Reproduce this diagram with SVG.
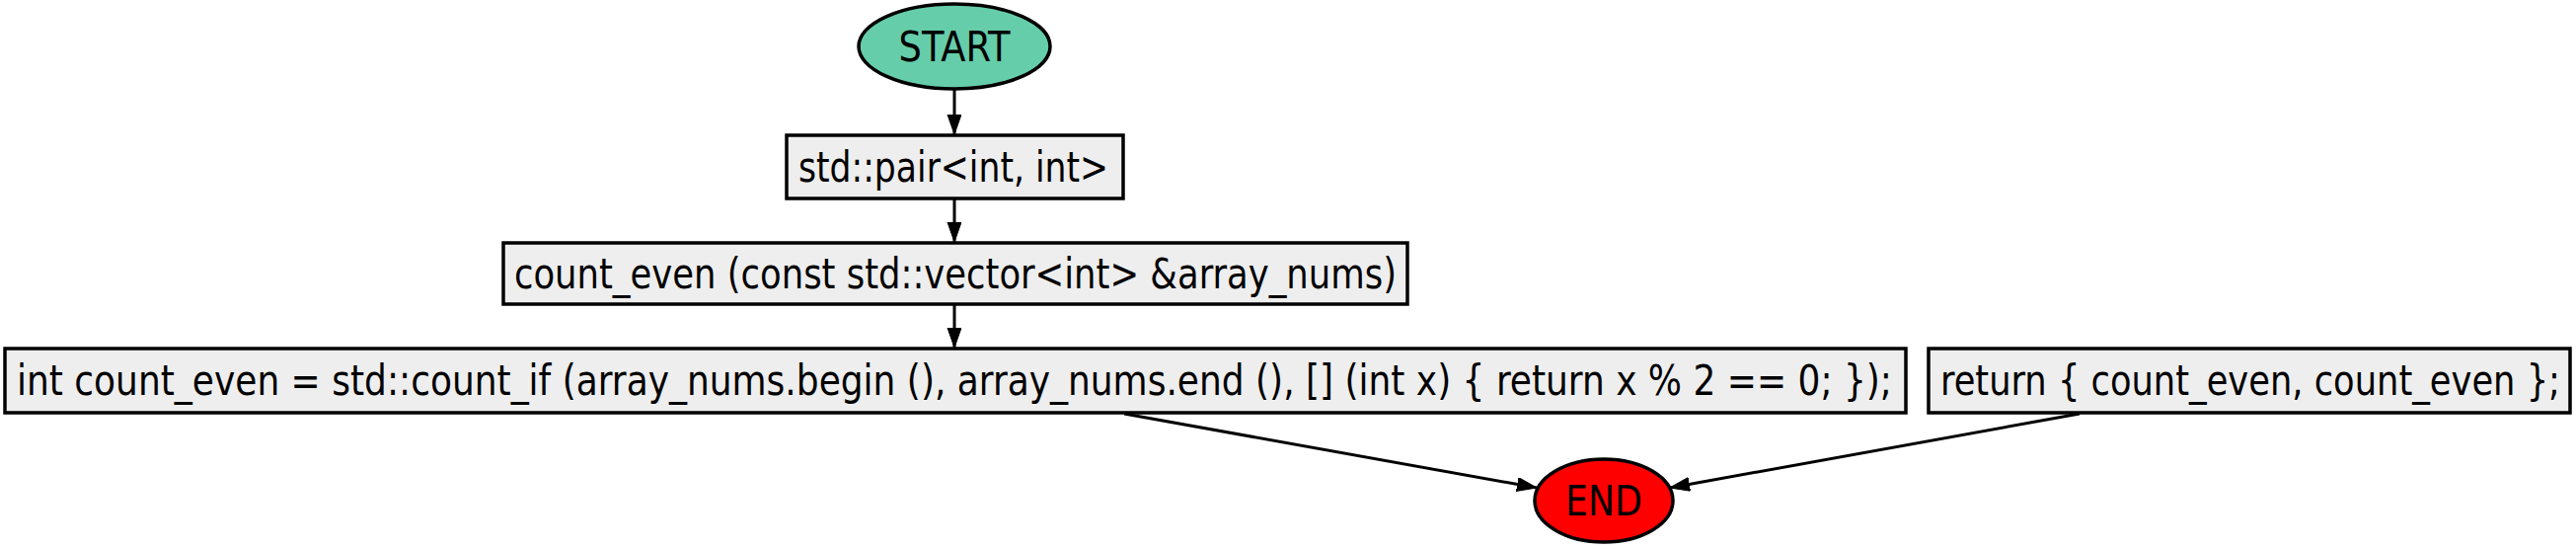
<svg xmlns="http://www.w3.org/2000/svg" width="2610" height="556" viewBox="0 0 2610 556">
<style>
  .box { fill: #eeeeee; stroke: #000; stroke-width: 3.5; }
  .lbl { font-family: "DejaVu Sans Condensed", "DejaVu Sans", sans-serif; font-size: 42px; fill: #000; text-anchor: middle; }
  .edge { stroke: #000; stroke-width: 3; fill: none; marker-end: url(#arr); }
</style>
<defs>
  <marker id="arr" markerUnits="userSpaceOnUse" markerWidth="22" markerHeight="16" refX="20" refY="7" orient="auto">
    <path d="M0,0 L20,7 L0,14 z" fill="#000" stroke="#000" stroke-width="1"/>
  </marker>
</defs>
<rect width="2610" height="556" fill="#fff"/>
<g id="edges">
  <line class="edge" x1="967" y1="90" x2="967" y2="136"/>
  <line class="edge" x1="967" y1="201" x2="967" y2="245"/>
  <line class="edge" x1="967" y1="308" x2="967" y2="352"/>
  <line class="edge" x1="1139" y1="419" x2="1557" y2="494"/>
  <line class="edge" x1="2107" y1="419" x2="1692" y2="494"/>
</g>
<g id="start">
  <ellipse cx="967" cy="47" rx="97" ry="43" fill="#66cdaa" stroke="#000" stroke-width="3.5"/>
  <text class="lbl" x="967" y="62" textLength="113" lengthAdjust="spacingAndGlyphs">START</text>
</g>
<g id="pair">
  <rect class="box" x="797" y="137" width="341" height="64"/>
  <text class="lbl" x="966" y="184" textLength="314" lengthAdjust="spacingAndGlyphs">std::pair&lt;int, int&gt;</text>
</g>
<g id="count_even_fn">
  <rect class="box" x="510" y="246" width="916" height="62"/>
  <text class="lbl" x="968" y="292" textLength="894" lengthAdjust="spacingAndGlyphs">count_even (const std::vector&lt;int&gt; &amp;array_nums)</text>
</g>
<g id="count_if">
  <rect class="box" x="5" y="353" width="1926" height="65"/>
  <text class="lbl" x="967" y="400" textLength="1900" lengthAdjust="spacingAndGlyphs">int count_even = std::count_if (array_nums.begin (), array_nums.end (), [] (int x) { return x % 2 == 0; });</text>
</g>
<g id="return">
  <rect class="box" x="1954" y="353" width="650" height="65"/>
  <text class="lbl" x="2280" y="400" textLength="628" lengthAdjust="spacingAndGlyphs">return { count_even, count_even };</text>
</g>
<g id="end">
  <ellipse cx="1625" cy="507" rx="70" ry="42" fill="#ff0000" stroke="#000" stroke-width="3.5"/>
  <text class="lbl" x="1625" y="522" textLength="78" lengthAdjust="spacingAndGlyphs">END</text>
</g>
</svg>
